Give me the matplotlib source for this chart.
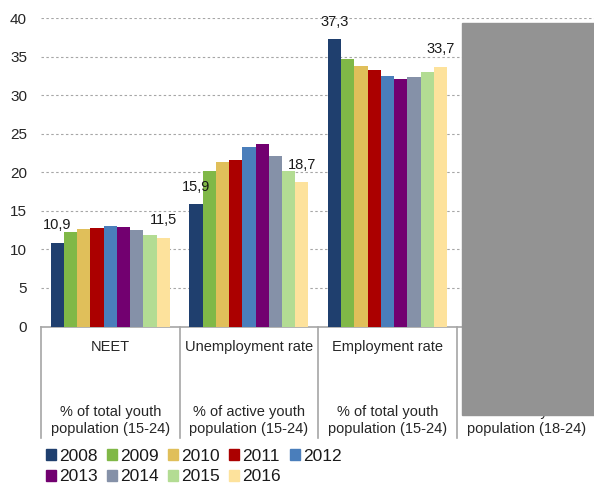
import matplotlib
matplotlib.use("Agg")
import matplotlib.pyplot as plt
from matplotlib.patches import Rectangle
from matplotlib.lines import Line2D
import numpy as np

plt.rcParams['font.family'] = ['Liberation Sans', 'DejaVu Sans']

years = ['2008', '2009', '2010', '2011', '2012', '2013', '2014', '2015', '2016']
colors = ['#1F3F6E', '#80B847', '#E0BF5A', '#AB0000', '#4A7EBB',
          '#720070', '#8591A8', '#B3DC93', '#FDE29C']

cat_titles = ['NEET', 'Unemployment rate', 'Employment rate', '']
cat_units = ['% of total youth\npopulation (15-24)',
             '% of active youth\npopulation (15-24)',
             '% of total youth\npopulation (15-24)',
             '% of total youth\npopulation (18-24)']

neet = [10.9, 12.3, 12.7, 12.8, 13.1, 12.9, 12.5, 11.9, 11.5]
unemployment = [15.9, 20.2, 21.4, 21.6, 23.3, 23.7, 22.1, 20.2, 18.7]
employment = [37.3, 34.7, 33.8, 33.3, 32.5, 32.1, 32.4, 33.0, 33.7]

series_by_cat = [neet, unemployment, employment]

yticks = [0, 5, 10, 15, 20, 25, 30, 35, 40]

W, H = 594, 486
fig = plt.figure(figsize=(W / 100, H / 100), dpi=100)
ax = fig.add_axes([41 / W, 1 - 326.5 / H, 554.4 / W, 308.2 / H])

ax.set_xlim(-0.5, 3.5)
ax.set_ylim(0, 40)

bw = 0.0955
n = len(years)
for ci, vals in enumerate(series_by_cat):
    for i, v in enumerate(vals):
        x = ci + (i - (n - 1) / 2) * bw
        ax.bar(x, v, width=bw, color=colors[i], zorder=3, linewidth=0)
    for i in (0, n - 1):
        x = ci + (i - (n - 1) / 2) * bw
        lab = f"{vals[i]:.1f}".replace('.', ',')
        ax.annotate(lab, (x, vals[i]), xytext=(0, 7.5), textcoords='offset points',
                    ha='center', va='bottom', fontsize=10.5, color='#1a1a1a', zorder=4)

# grid
for t in yticks[1:]:
    ax.axhline(t, color='#A6A6A6', lw=0.8, ls=(0, (2.2, 2.2)), zorder=1)

ax.set_yticks(yticks)
ax.set_yticklabels([str(t) for t in yticks], fontsize=11, color='#262626')
ax.tick_params(axis='y', length=0, pad=10)
ax.set_xticks([])
for s in ['left', 'right', 'top']:
    ax.spines[s].set_visible(False)
ax.spines['bottom'].set_color('#A6A6A6')
ax.spines['bottom'].set_linewidth(1.2)

# category separators
sep_bottom = 1 - 438 / H
xs_fig = [41 + k * 138.6 for k in range(5)]
for xf in xs_fig:
    fig.add_artist(Line2D([xf / W, xf / W], [1 - 326.5 / H, sep_bottom],
                          transform=fig.transFigure, color='#A6A6A6', lw=1.2))

for ci in range(4):
    xc = (41 + (ci + 0.5) * 138.6) / W
    if cat_titles[ci]:
        fig.text(xc, 1 - 347 / H, cat_titles[ci], ha='center', va='center',
                 fontsize=10.5, color='#262626')
    fig.text(xc, 1 - 420.5 / H, cat_units[ci], ha='center', va='center',
             fontsize=10.5, color='#262626', linespacing=1.35)

# legend (row-major with 2 rows)
handles = [Rectangle((0, 0), 1, 1, color=c) for c in colors]
order = [0, 5, 1, 6, 2, 7, 3, 8, 4]
leg = fig.legend([handles[k] for k in order], [years[k] for k in order],
                 ncol=5, loc='upper left', bbox_to_anchor=(46 / W, 1 - 449 / H),
                 frameon=False, fontsize=12.5, handlelength=0.6, handleheight=0.6,
                 handletextpad=0.18, columnspacing=0.5, labelspacing=0.3,
                 borderaxespad=0, borderpad=0)
for t in leg.get_texts():
    t.set_color('#1a1a1a')

# grey occluding block
fig.add_artist(Rectangle((462 / W, 1 - 415 / H), (W - 462) / W, (415 - 22.5) / H,
                         transform=fig.transFigure, color='#939393', zorder=10))

fig.savefig('out.png', dpi=100)
